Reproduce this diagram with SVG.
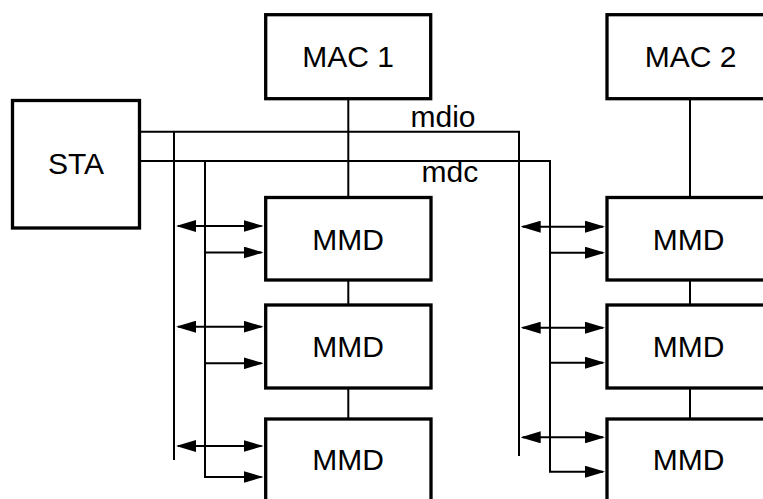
<svg xmlns="http://www.w3.org/2000/svg" width="763" height="499" viewBox="0 0 763 499">
<style>
.box{fill:#fff;stroke:#000;stroke-width:3.3}
.t{font-family:"Liberation Sans",Arial,Helvetica,sans-serif;font-size:30px;fill:#000;text-anchor:middle}
.l{font-family:"Liberation Sans",Arial,Helvetica,sans-serif;font-size:30px;fill:#000}
.w{fill:none;stroke:#000;stroke-width:2}
.a{fill:none;stroke:#000;stroke-width:2;marker-end:url(#ah)}
.d{fill:none;stroke:#000;stroke-width:2;marker-start:url(#ah);marker-end:url(#ah)}
</style>
<defs>
<marker id="ah" markerUnits="userSpaceOnUse" markerWidth="20" markerHeight="12" refX="18" refY="6" orient="auto-start-reverse">
<path d="M0,0 L20,6 L0,12 z" fill="#000"/>
</marker>
</defs>
<g id="connectors">
<path class="w" d="M140,131.7 H519 V456"/>
<path class="a" d="M140,161 H550 V471.7 H603"/>
<path class="w" d="M174,131.7 V460"/>
<path class="a" d="M205,161 V477 H261.5"/>
<path class="w" d="M348.3,98.7 V197.5 M348.3,280 V305 M348.3,388 V419"/>
<path class="w" d="M690,98.7 V197.5 M690,280 V305 M690,388 V419"/>
<path class="d" d="M178,226 H261.5"/>
<path class="a" d="M205,252.5 H261.5"/>
<path class="d" d="M178,326.7 H261.5"/>
<path class="a" d="M205,363.3 H261.5"/>
<path class="d" d="M178,446 H261.5"/>
<path class="d" d="M522.7,226.7 H603"/>
<path class="a" d="M550,252.7 H603"/>
<path class="d" d="M522.7,327.7 H603"/>
<path class="a" d="M550,362.7 H603"/>
<path class="d" d="M522.7,437.3 H603"/>
<text class="l" x="410.5" y="126.7">mdio</text>
<text class="l" x="421.5" y="181.7">mdc</text>
</g>
<g id="sta"><rect class="box" x="12.5" y="100.5" width="127" height="127.5"/><text class="t" x="76" y="174">STA</text></g>
<g id="mac1"><rect class="box" x="265.7" y="14.7" width="165" height="84"/><text class="t" x="348" y="67">MAC 1</text></g>
<g id="mac2"><rect class="box" x="607" y="14.7" width="165" height="84"/><text class="t" x="690.5" y="67">MAC 2</text></g>
<g id="mmd1a"><rect class="box" x="265.7" y="197.5" width="165.3" height="82.5"/><text class="t" x="348" y="250">MMD</text></g>
<g id="mmd1b"><rect class="box" x="265.7" y="305" width="165.3" height="83"/><text class="t" x="348" y="357">MMD</text></g>
<g id="mmd1c"><rect class="box" x="265.7" y="419" width="165.3" height="90"/><text class="t" x="348" y="470">MMD</text></g>
<g id="mmd2a"><rect class="box" x="607" y="197.5" width="165" height="82.5"/><text class="t" x="688.5" y="250">MMD</text></g>
<g id="mmd2b"><rect class="box" x="607" y="305" width="165" height="83"/><text class="t" x="688.5" y="357">MMD</text></g>
<g id="mmd2c"><rect class="box" x="607" y="419" width="165" height="90"/><text class="t" x="688.5" y="470">MMD</text></g>
</svg>
